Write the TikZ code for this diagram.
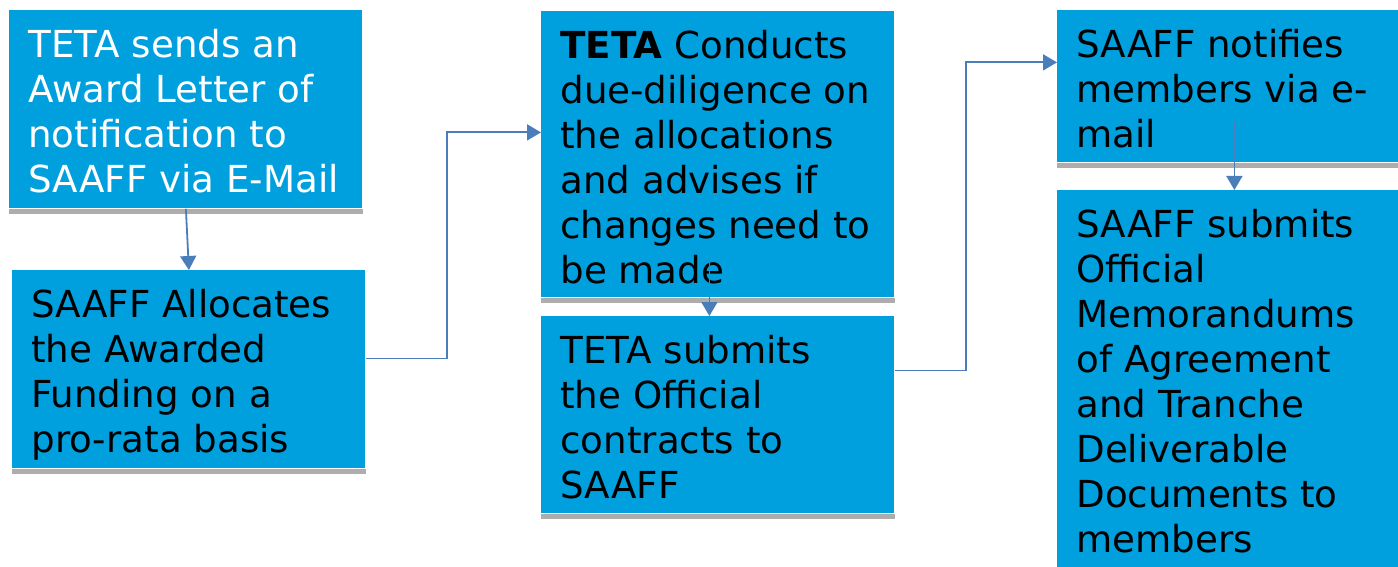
\documentclass[tikz,border=0pt]{standalone}
\usepackage{fontspec}
\setmainfont{DejaVu Sans}
\usetikzlibrary{arrows.meta}
\definecolor{boxblue}{RGB}{0,160,223}
\definecolor{shadowgrey}{RGB}{173,173,173}
\definecolor{linkblue}{RGB}{74,126,187}
\newcommand{\flowtext}[3]{\parbox[t][#1][t]{#2}{\raggedright\rule{0pt}{23.5pt}#3}}

\begin{document}
\begin{tikzpicture}[x=0.5pt, y=-0.5pt, >={Triangle[width=8pt,length=7pt]},
	box/.style={fill=boxblue, anchor=north west, inner xsep=9.5pt, inner ysep=0pt, font=\fontsize{18.6pt}{22.5pt}\selectfont},
	flow/.style={->, linkblue, line width=0.9pt}]
	\useasboundingbox (0,0) rectangle (1398,567);

	\node[box, text=white] (award) at (9,10) {\flowtext{99pt}{157.5pt}{TETA sends an\\Award Letter of\\notification to\\SAAFF via E-Mail}};
	\node[box] (alloc) at (12,270) {\flowtext{99pt}{157.5pt}{SAAFF Allocates\\the Awarded\\Funding on a\\pro-rata basis}};
	\node[box] (check) at (541,11) {\flowtext{143pt}{157.5pt}{\textbf{TETA} Conducts\\due-diligence on\\the allocations\\and advises if\\changes need to\\be made}};
	\node[box] (contract) at (541,316) {\flowtext{98.5pt}{157.5pt}{TETA submits\\the Official\\contracts to\\SAAFF}};
	\node[box] (notify) at (1057,10) {\flowtext{76pt}{151.5pt}{SAAFF notifies\\members via e-\\mail}};
	\node[box] (submit) at (1057,190) {\flowtext{200pt}{151.5pt}{SAAFF submits\\Official\\Memorandums\\of Agreement\\and Tranche\\Deliverable\\Documents to\\members}};

	\foreach \n in {award,alloc,check,contract,notify,submit}
		\fill[shadowgrey] (\n.south west) rectangle ([shift={(0,5)}]\n.south east);

	\draw[flow] (award.south) -- (alloc.north);
	\draw[flow] ([shift={(0,-11)}]alloc.east) -- ++(81,0) |- ([shift={(0,-22)}]check.west);
	\draw[flow] ([shift={(-8.5,-42)}]check.south) -- ([xshift=-4.25pt]contract.north);
	\draw[flow] ([shift={(0,-44.5)}]contract.east) -- ++(71,0) |- ([shift={(0,-24)}]notify.west);
	\draw[flow] ([shift={(6.5,-42)}]notify.south) -- ([xshift=3.25pt]submit.north);
\end{tikzpicture}
\end{document}
